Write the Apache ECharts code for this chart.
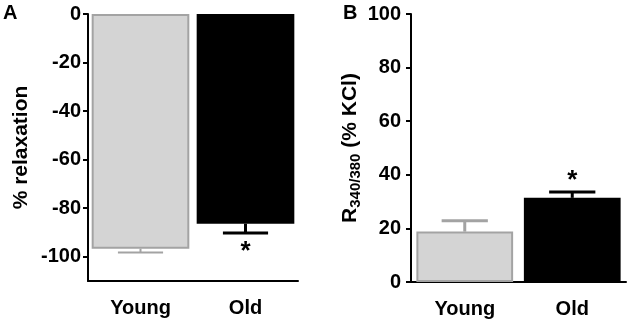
<!DOCTYPE html>
<html>
<head>
<meta charset="utf-8">
<script src="https://cdn.jsdelivr.net/npm/echarts@6/dist/echarts.min.js"></script>
<style>
  html, body { margin: 0; padding: 0; background: #fff; }
  #main { width: 630px; height: 322px; }
</style>
</head>
<body>
<div id="main"></div>
<script>
  // data
  var categories = ['Young', 'Old'];
  var relaxMean = [-96.7, -86.4];
  var relaxErr = [1.6, 3.8];
  var calciumMean = [18.8, 31.4];
  var calciumErr = [4.1, 2.2];
  var sigMarks = ['', '*'];
  var relaxTicks = [0, -20, -40, -60, -80, -100];
  var calciumTicks = [0, 20, 40, 60, 80, 100];

  var FONT = 'Liberation Sans, Arial, sans-serif';
  var barColors = ['#d4d4d4', '#000000'];
  var borderColors = ['#a3a3a3', '#000000'];

  var chart = echarts.init(document.getElementById('main'));

  function barData(values) {
    return values.map(function (v, i) {
      return {
        value: v,
        itemStyle: { color: barColors[i], borderColor: borderColors[i], borderWidth: i === 0 ? 2 : 0 }
      };
    });
  }

  function errData(means, errs) {
    return means.map(function (m, i) { return [i, m, errs[i]]; });
  }

  // error bar + significance star, drawn through the axes
  function makeErrorRender(lineWidths, starOffset) {
    return function (params, api) {
      var i = params.dataIndex;
      var mean = api.value(1);
      var err = api.value(2);
      var dir = mean < 0 ? -1 : 1;
      var p0 = api.coord([api.value(0), mean]);
      var p1 = api.coord([api.value(0), mean + dir * err]);
      var half = api.size([1, 0])[0] * 0.215;
      var style = { stroke: borderColors[i], lineWidth: lineWidths[i] };
      var children = [
        { type: 'line', shape: { x1: p0[0], y1: p0[1], x2: p1[0], y2: p1[1] }, style: style },
        { type: 'line', shape: { x1: p1[0] - half, y1: p1[1], x2: p1[0] + half, y2: p1[1] }, style: style }
      ];
      if (sigMarks[i]) {
        children.push({
          type: 'text',
          x: p1[0],
          y: p1[1] - dir * starOffset,
          style: { text: sigMarks[i], fill: '#000', font: 'bold 26px ' + FONT, align: 'center', verticalAlign: 'middle' }
        });
      }
      return { type: 'group', children: children };
    };
  }

  var axisLabelStyle = { color: '#000', fontSize: 20, fontWeight: 'bold', fontFamily: FONT };

  var option = {
    animation: false,
    title: [
      { text: 'A', left: 3, top: 3, padding: 0, textStyle: { fontSize: 20, fontWeight: 'bold', fontFamily: FONT, color: '#000' } },
      { text: 'B', left: 343, top: 3, padding: 0, textStyle: { fontSize: 20, fontWeight: 'bold', fontFamily: FONT, color: '#000' } }
    ],
    grid: [
      { left: 88, top: 14, width: 210, height: 267 },
      { left: 411, top: 14, width: 215, height: 268 }
    ],
    xAxis: [
      {
        gridIndex: 0, type: 'category', data: categories,
        axisLine: { onZero: false, lineStyle: { color: '#000', width: 2 } },
        axisTick: { alignWithLabel: true, length: 8, lineStyle: { color: '#000', width: 2 } },
        axisLabel: Object.assign({ margin: 17 }, axisLabelStyle)
      },
      {
        gridIndex: 1, type: 'category', data: categories,
        axisLine: { lineStyle: { color: '#000', width: 2 } },
        axisTick: { alignWithLabel: true, length: 8, lineStyle: { color: '#000', width: 2 } },
        axisLabel: Object.assign({ margin: 17 }, axisLabelStyle)
      }
    ],
    yAxis: [
      {
        gridIndex: 0, type: 'value', min: -110, max: 0,
        name: '% relaxation', nameLocation: 'middle', nameGap: 56,
        nameTextStyle: { fontSize: 21, fontWeight: 'bold', fontFamily: FONT, color: '#000' },
        axisLine: { show: true, lineStyle: { color: '#000', width: 2 } },
        axisTick: { show: true, length: 5, customValues: relaxTicks, lineStyle: { color: '#000', width: 2 } },
        axisLabel: Object.assign({ margin: 7, customValues: relaxTicks }, axisLabelStyle),
        splitLine: { show: false }
      },
      {
        gridIndex: 1, type: 'value', min: 0, max: 100, interval: 20,
        name: '{r|R}{s|340/380}{r| (% KCl)}', nameLocation: 'middle', nameGap: 46,
        nameTextStyle: {
          fontSize: 21, fontWeight: 'bold', fontFamily: FONT, color: '#000',
          rich: {
            r: { fontSize: 21, fontWeight: 'bold', fontFamily: FONT, color: '#000', lineHeight: 24, verticalAlign: 'bottom' },
            s: { fontSize: 15, fontWeight: 'bold', fontFamily: FONT, color: '#000', lineHeight: 15, verticalAlign: 'bottom', padding: [0, 0, -3, 0] }
          }
        },
        axisLine: { show: true, lineStyle: { color: '#000', width: 2 } },
        axisTick: { show: true, length: 5, lineStyle: { color: '#000', width: 2 } },
        axisLabel: Object.assign({ margin: 10 }, axisLabelStyle),
        splitLine: { show: false }
      }
    ],
    series: [
      {
        type: 'bar', xAxisIndex: 0, yAxisIndex: 0, barWidth: '93%',
        data: barData(relaxMean)
      },
      {
        type: 'custom', xAxisIndex: 0, yAxisIndex: 0, z: 3,
        renderItem: makeErrorRender([2, 3], 19),
        data: errData(relaxMean, relaxErr)
      },
      {
        type: 'bar', xAxisIndex: 1, yAxisIndex: 1, barWidth: '90%',
        data: barData(calciumMean)
      },
      {
        type: 'custom', xAxisIndex: 1, yAxisIndex: 1, z: 3,
        renderItem: makeErrorRender([3, 3], 11),
        data: errData(calciumMean, calciumErr)
      }
    ]
  };

  chart.setOption(option);
</script>
</body>
</html>
